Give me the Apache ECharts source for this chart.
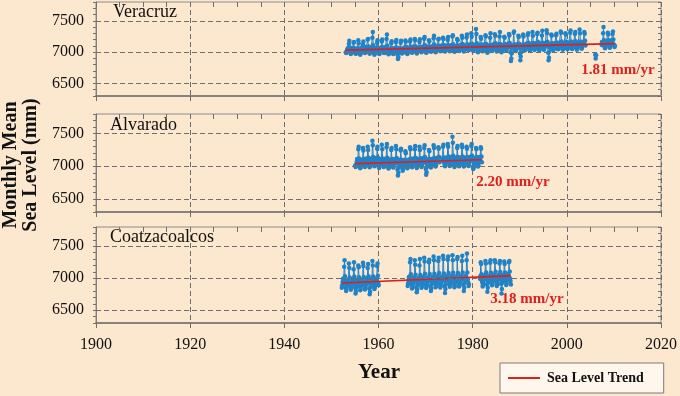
<!DOCTYPE html>
<html><head><meta charset="utf-8">
<script src="https://cdn.jsdelivr.net/npm/echarts@6/dist/echarts.min.js"></script>
<style>html,body{margin:0;padding:0;background:#FCE7CF}#c{width:680px;height:396px}</style>
</head><body><div id="c"></div>
<script>
// ---------- DATA (monthly mean sea level, mm) ----------
const stations = ['Veracruz', 'Alvarado', 'Coatzacoalcos'];
const trendLabels = ['1.81 mm/yr', '2.20 mm/yr', '3.18 mm/yr'];
const xTicks = [1900, 1920, 1940, 1960, 1980, 2000, 2020];
const yTicks = [6500, 7000, 7500];

// Veracruz segments: [startYear, startMonth(1-12)]
const veracruzStarts = [[1953, 1], [2006, 1], [2007, 5]];
const veracruzSeg1 = [
7000,6985,6990,7010,7040,7060,7030,7050,7130,7180,7070,7010,
6990,6970,6985,7005,7035,7070,7020,7045,7150,7160,7060,7000,
7010,6980,6975,7020,7050,7055,7040,7060,7190,7140,7050,7020,
6980,6960,6990,7000,7030,7075,7025,7040,7120,7170,7080,6995,
7005,6985,7000,7025,7060,7080,7045,7070,7200,7210,7090,7030,
6995,6975,6990,7015,7055,7060,7030,7085,7230,7320,7110,7020,
7000,6960,6980,7010,7040,7065,7035,7060,7150,7190,7070,7010,
6990,6980,6970,7020,7050,7070,7040,7050,7170,7200,7080,7025,
7010,6990,6985,7030,7060,7080,7050,7075,7210,7280,7100,7030,
6985,6965,6975,7005,7035,7055,7020,7040,7140,7175,7060,7000,
6995,6970,6980,7015,7045,7065,7030,7055,7160,7195,7075,7010,
6960,6890,6920,6990,7030,7060,7010,7045,7150,7180,7050,6980,
7005,6985,6995,7025,7055,7075,7045,7065,7185,7165,7085,7020,
6990,6970,6985,7010,7050,7070,7035,7060,7170,7200,7090,7015,
7015,6990,7000,7030,7065,7085,7055,7080,7210,7190,7095,7035,
7000,6980,6990,7020,7055,7075,7040,7070,7160,7205,7080,7020,
7020,7000,7010,7040,7070,7090,7060,7085,7215,7240,7110,7045,
7010,6990,7000,7030,7060,7080,7050,7075,7190,7170,7090,7030,
7030,7005,7015,7045,7075,7095,7065,7090,7220,7260,7120,7050,
7020,7000,7010,7035,7070,7090,7055,7080,7200,7215,7100,7040,
7035,7015,7025,7055,7085,7105,7070,7095,7230,7210,7115,7055,
7030,7010,7020,7045,7080,7100,7065,7090,7195,7240,7110,7050,
7040,7015,7030,7060,7090,7110,7075,7100,7250,7270,7125,7060,
7025,7005,7015,7040,7075,7095,7060,7085,7210,7190,7105,7045,
7045,7020,7030,7065,7095,7115,7080,7105,7260,7230,7130,7065,
7035,7010,7025,7055,7085,7105,7070,7095,7235,7280,7120,7055,
7050,7030,7040,7070,7100,7120,7085,7110,7300,7250,7135,7070,
7040,7020,7035,7065,7095,7115,7080,7105,7370,7290,7140,7060,
7030,7000,7015,7050,7085,7110,7070,7100,7240,7215,7120,7050,
7045,7015,7030,7060,7095,7120,7080,7110,7270,7250,7130,7065,
7020,6990,7005,7045,7080,7105,7065,7090,7230,7300,7115,7040,
7050,7020,7035,7070,7100,7125,7090,7115,7285,7260,7140,7070,
7040,7010,7025,7060,7095,7120,7080,7105,7250,7320,7130,7060,
7030,7000,7020,7055,7090,7115,7075,7100,7245,7230,7125,7050,
7050,7025,7040,7070,7105,7130,7090,7115,7290,7265,7145,7075,
7000,6860,6900,6980,7060,7110,7070,7100,7310,7330,7120,7030,
7045,7020,7030,7065,7100,7125,7085,7110,7260,7240,7135,7065,
6980,6870,6930,7000,7070,7115,7075,7100,7280,7250,7120,7040,
7055,7030,7045,7075,7110,7135,7095,7120,7275,7300,7150,7080,
7050,7025,7035,7070,7105,7130,7090,7115,7320,7260,7145,7070,
7060,7035,7050,7080,7115,7140,7100,7125,7290,7310,7160,7085,
7055,7030,7040,7075,7110,7135,7095,7120,7265,7340,7150,7080,
7065,7040,7050,7085,7120,7145,7105,7130,7350,7300,7165,7090,
6990,6870,6910,7010,7080,7130,7090,7120,7280,7260,7140,7050,
7060,7035,7045,7080,7115,7140,7100,7125,7270,7295,7155,7085,
7070,7045,7055,7090,7125,7150,7110,7135,7330,7310,7170,7095,
7065,7040,7050,7085,7120,7145,7105,7130,7300,7280,7165,7090,
7070,7045,7060,7090,7125,7150,7115,7140,7310,7345,7170,7095,
7075,7050,7060,7095,7130,7155,7115,7140,7290,7320,7175,7100,
7065,7040,7055,7090,7125,7150,7110,7135,7360,7300,7170,7090,
7080,7055,7065,7100,7135,7160,7120,7145,7320,7295,7180,7105
];
const veracruzSeg2 = [6960, 6900, 6950];
const veracruzSeg3 = [
7120,7160,7110,7150,7300,7400,7190,7110,
7090,7060,7080,7110,7150,7180,7130,7160,7310,7280,7190,7110,
7100,7070,7085,7120,7160,7190,7140,7170,7290,7330,7200,7120,
7110,7080,7100
];

const alvaradoStarts = [[1955, 1], [1973, 7]];
const alvaradoSeg1 = [
7010,6990,7000,7030,7070,7110,7060,7100,7260,7300,7120,7040,
7000,6970,6990,7020,7060,7100,7050,7090,7280,7240,7110,7030,
7020,6990,7005,7040,7080,7120,7070,7110,7300,7250,7130,7050,
7010,6985,7000,7035,7075,7115,7065,7100,7390,7320,7140,7045,
7030,7000,7010,7045,7085,7125,7075,7115,7270,7300,7135,7055,
7000,6975,6990,7030,7070,7110,7060,7095,7330,7260,7120,7040,
7015,6990,7000,7040,7080,7115,7065,7105,7290,7340,7130,7050,
6995,6965,6980,7020,7060,7100,7050,7090,7250,7280,7110,7030,
7010,6980,6995,7030,7070,7110,7060,7100,7310,7260,7125,7045,
6950,6860,6900,6980,7050,7100,7040,7080,7240,7270,7100,7010,
6980,6930,6950,7000,7055,7095,7045,7085,7230,7200,7090,7010,
7000,6970,6985,7025,7065,7105,7055,7095,7290,7260,7115,7035,
7015,6985,7000,7040,7080,7120,7070,7110,7260,7310,7130,7050,
7005,6975,6990,7030,7070,7110,7060,7100,7300,7250,7120,7040,
7020,6990,7005,7045,7085,7125,7075,7115,7280,7320,7140,7055,
6960,6870,6910,6990,7060,7105,7050,7090,7250,7230,7110,7020,
7010,6980,6995,7035,7075,7115,7065,7105,7320,7280,7125,7045,
7025,6995,7010,7050,7090,7130,7080,7120,7290,7270,7140,7060
];
const alvaradoSeg2 = [
7100,7120,7300,7330,7135,7060,
7030,7000,7015,7055,7095,7135,7085,7125,7340,7300,7150,7065,
7040,7005,7020,7060,7100,7140,7090,7130,7450,7360,7160,7070,
7020,6990,7005,7045,7090,7130,7080,7120,7280,7310,7140,7060,
7035,7000,7015,7055,7095,7135,7085,7125,7330,7290,7150,7065,
7025,6995,7010,7050,7090,7130,7080,7120,7300,7270,7140,7060,
7040,7005,7020,7060,7100,7140,7090,7130,7310,7340,7160,7075,
6990,6960,6980,7030,7080,7125,7075,7115,7280,7260,7140,7050,
7020,6995,7010,7050,7090,7140,7100,7130,7290,7270,7150,7060
];

const coatzStarts = [[1952, 3], [1966, 3], [1981, 7]];
const coatzSeg1 = [
6850,6890,6940,6990,6930,6970,7180,7280,7030,6920,
6860,6800,6830,6870,6920,6970,6910,6950,7230,7160,7010,6900,
6880,6820,6845,6885,6935,6985,6925,6965,7140,7250,7025,6915,
6850,6760,6800,6860,6920,6975,6915,6955,7200,7170,7015,6905,
6870,6810,6835,6880,6930,6980,6920,6960,7240,7190,7020,6910,
6885,6825,6850,6890,6940,6990,6930,6970,7160,7220,7030,6920,
6840,6750,6790,6860,6925,6985,6925,6965,7270,7200,7025,6915,
6880,6830,6850,6890,6945,6995,6935,6975,7190,7230,7040,6925,
6890
];
const coatzSeg2 = [
6880,6920,6970,7020,6960,7000,7250,7300,7060,6950,
6900,6840,6860,6905,6960,7010,6950,6990,7280,7210,7055,6945,
6860,6780,6820,6890,6955,7005,6945,6985,7200,7300,7050,6940,
6910,6850,6870,6915,6970,7020,6960,7000,7320,7260,7070,6960,
6900,6845,6865,6910,6965,7015,6955,6995,7250,7290,7065,6955,
6880,6800,6840,6900,6965,7020,6960,7000,7340,7280,7070,6960,
6920,6860,6880,6925,6980,7030,6970,7010,7270,7320,7080,6970,
6910,6855,6875,6920,6975,7025,6965,7005,7350,7300,7075,6965,
6880,6770,6830,6905,6975,7030,6970,7010,7290,7340,7080,6970,
6925,6865,6885,6930,6985,7035,6975,7015,7360,7280,7085,6975,
6915,6860,6880,6925,6980,7030,6970,7010,7300,7330,7080,6970,
6930,6870,6890,6935,6990,7040,6980,7020,7270,7350,7090,6980,
6900,6800,6850,6920,6990,7040,6980,7020,7280,7385,7090,6980,
6935,6880,6900
];
const coatzSeg3 = [
6990,7030,7250,7220,7060,6960,
6930,6870,6890,6940,6995,7045,6985,7025,7270,7230,7090,6985,
6900,6790,6850,6930,6990,7040,6980,7020,7240,7280,7085,6980,
6945,6890,6910,6955,7010,7055,6995,7035,7280,7250,7100,6990,
6940,6880,6905,6950,7005,7050,6990,7030,7230,7270,7095,6985,
6910,6760,6830,6930,7000,7050,6990,7030,7260,7220,7090,6980,
6950,6895,6915,6960,7015,7060,7000,7040,7250,7270,7105,6995,
6955,6900
];

// Linear trends: [year, level]
const veracruzTrend = [[1953.0, 7032], [2010.2, 7135]];
const alvaradoTrend = [[1955.0, 7040], [1981.9, 7099]];
const coatzTrend = [[1952.2, 6925], [1988.1, 7040]];

// ---------- BUILD ----------
function buildSeries(starts, segs) {
  const out = [];
  segs.forEach((seg, s) => {
    const [y0, m0] = starts[s];
    if (s > 0) out.push([y0, '-']);
    seg.forEach((v, i) => {
      const mi = m0 - 1 + i;
      out.push([y0 + (mi + 0.5) / 12, v]);
    });
  });
  return out;
}
const stationData = [
  buildSeries(veracruzStarts, [veracruzSeg1, veracruzSeg2, veracruzSeg3]),
  buildSeries(alvaradoStarts, [alvaradoSeg1, alvaradoSeg2]),
  buildSeries(coatzStarts, [coatzSeg1, coatzSeg2, coatzSeg3])
];
const trends = [veracruzTrend, alvaradoTrend, coatzTrend];

const SERIF = '"Liberation Serif", "Times New Roman", serif';
const BG = '#FCE7CF';
const BLUE = '#2083c8';
const RED = '#dc2020';
const GRID_COL = '#6e6e6e';

const grids = [
  { left: 96, right: 19, top: 2, height: 94 },
  { left: 96, right: 19, top: 114, height: 98 },
  { left: 96, right: 19, top: 227, height: 96 }
].map(g => Object.assign(g, { show: true, borderColor: '#8c8c8c', borderWidth: 1, backgroundColor: 'transparent' }));

const xAxis = [], yAxis = [], series = [];
for (let i = 0; i < 3; i++) {
  xAxis.push({
    type: 'value', gridIndex: i, min: xTicks[0], max: xTicks[xTicks.length - 1], interval: 20,
    axisLine: { show: true, onZero: false, lineStyle: { color: '#707070', width: 1.5 } },
    axisTick: { show: true, inside: false, length: 5, lineStyle: { color: '#707070' } },
    axisLabel: { show: i === 2, fontFamily: SERIF, fontSize: 16, color: '#111', margin: 14,
      formatter: v => String(v) },
    splitLine: { show: true, lineStyle: { color: GRID_COL, type: [5, 3], width: 1 } }
  });
  xAxis.push({
    type: 'value', gridIndex: i, min: xTicks[0], max: xTicks[xTicks.length - 1], interval: 5,
    axisLine: { show: false, onZero: false },
    axisTick: { show: true, inside: true, length: 5, lineStyle: { color: '#707070' } },
    axisLabel: { show: false }, splitLine: { show: false }
  });
  yAxis.push({
    type: 'value', gridIndex: i, min: 6300, max: 7800, interval: 100,
    axisLine: { show: true, onZero: false, lineStyle: { color: '#808080', width: 1 } },
    axisTick: { show: true, inside: false, length: 3, lineStyle: { color: '#707070' } },
    axisLabel: { fontFamily: SERIF, fontSize: 16, color: '#111', margin: 12,
      formatter: v => (yTicks.indexOf(v) >= 0 ? String(v) : '') },
    splitLine: { show: false }
  });
  yAxis.push({
    type: 'value', gridIndex: i, min: 6300, max: 7800, interval: 100,
    axisLine: { show: false, onZero: false },
    axisTick: { show: true, inside: true, length: 3, lineStyle: { color: '#707070' } },
    axisLabel: { show: false }, splitLine: { show: false }
  });
  // horizontal dashed gridlines
  series.push({
    type: 'line', xAxisIndex: 2 * i, yAxisIndex: 2 * i, data: [], z: 1, silent: true,
    markLine: { silent: true, symbol: ['none', 'none'], label: { show: false },
      lineStyle: { color: GRID_COL, type: [5, 3], width: 1 },
      data: yTicks.map(v => ({ yAxis: v })) }
  });
  series.push({
    name: stations[i], type: 'line', xAxisIndex: 2 * i, yAxisIndex: 2 * i,
    data: stationData[i], z: 3, connectNulls: false,
    symbol: 'circle', symbolSize: 4.5, showSymbol: true,
    lineStyle: { color: BLUE, width: 1 }, itemStyle: { color: BLUE }
  });
  series.push({
    name: 'Sea Level Trend', type: 'line', xAxisIndex: 2 * i, yAxisIndex: 2 * i,
    data: trends[i], z: 4, symbol: 'none',
    lineStyle: { color: RED, width: 1.6 }, itemStyle: { color: RED }
  });
}

const graphic = [
  { type: 'text', x: 113, y: 12, style: { text: stations[0], font: '18px ' + SERIF, fill: '#111', verticalAlign: 'middle' } },
  { type: 'text', x: 110, y: 125, style: { text: stations[1], font: '18px ' + SERIF, fill: '#111', verticalAlign: 'middle' } },
  { type: 'text', x: 110, y: 237, style: { text: stations[2], font: '18px ' + SERIF, fill: '#111', verticalAlign: 'middle' } },
  { type: 'text', x: 618, y: 70, style: { text: trendLabels[0], font: 'bold 15px ' + SERIF, fill: RED, align: 'center', verticalAlign: 'middle' } },
  { type: 'text', x: 513, y: 182, style: { text: trendLabels[1], font: 'bold 15px ' + SERIF, fill: RED, align: 'center', verticalAlign: 'middle' } },
  { type: 'text', x: 527, y: 299, style: { text: trendLabels[2], font: 'bold 15px ' + SERIF, fill: RED, align: 'center', verticalAlign: 'middle' } },
  { type: 'text', x: 11, y: 165, rotation: Math.PI / 2, style: { text: 'Monthly Mean', font: 'bold 20px ' + SERIF, fill: '#111', align: 'center', verticalAlign: 'middle' } },
  { type: 'text', x: 31, y: 165, rotation: Math.PI / 2, style: { text: 'Sea Level (mm)', font: 'bold 20px ' + SERIF, fill: '#111', align: 'center', verticalAlign: 'middle' } },
  { type: 'text', x: 379, y: 373, style: { text: 'Year', font: 'bold 21px ' + SERIF, fill: '#111', align: 'center', verticalAlign: 'middle' } }
];

const chart = echarts.init(document.getElementById('c'), null, { renderer: 'canvas' });
chart.setOption({
  backgroundColor: BG,
  animation: false,
  textStyle: { fontFamily: SERIF },
  grid: grids,
  xAxis: xAxis,
  yAxis: yAxis,
  legend: {
    data: [{ name: 'Sea Level Trend', icon: 'rect' }], left: 500, top: 363, orient: 'horizontal',
    padding: [8, 20, 8, 8], itemWidth: 32, itemHeight: 2, itemGap: 8,
    backgroundColor: '#FFF6EC', borderColor: '#7a7a7a', borderWidth: 1, borderRadius: 0,
    itemStyle: { color: RED },
    textStyle: { fontFamily: SERIF, fontWeight: 'bold', fontSize: 14, color: '#111', padding: [0, 0, 0, 2], lineHeight: 14 },
    selectedMode: false
  },
  graphic: graphic,
  series: series
});
</script>
</body></html>
